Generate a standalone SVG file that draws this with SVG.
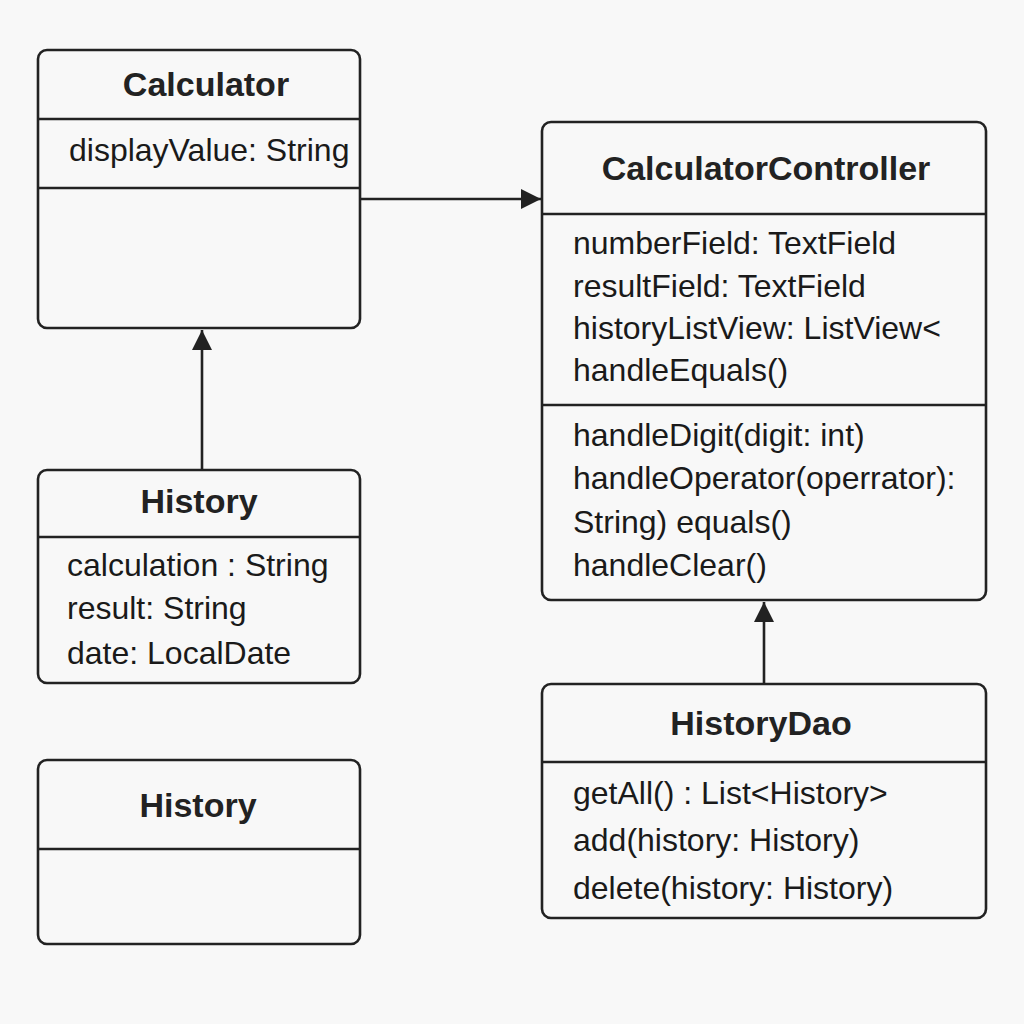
<svg xmlns="http://www.w3.org/2000/svg" width="1024" height="1024" viewBox="0 0 1024 1024">
  <defs>
    <style>
      .box { fill: #f8f8f8; stroke: #222; stroke-width: 2.6; }
      .div { stroke: #222; stroke-width: 2.6; }
      .title { font-family: "Liberation Sans", Arial, sans-serif; font-weight: bold; font-size: 34px; fill: #222; text-anchor: middle; }
      .txt { font-family: "Liberation Sans", Arial, sans-serif; font-size: 32px; fill: #1a1a1a; }
      .conn { stroke: #222; stroke-width: 2.6; fill: none; }
    </style>
    <marker id="arrow" viewBox="0 0 20 20" refX="20" refY="10" markerWidth="20" markerHeight="20" markerUnits="userSpaceOnUse" orient="auto">
      <path d="M0,0 L20,10 L0,20 Z" fill="#222"/>
    </marker>
  </defs>
  <rect width="1024" height="1024" fill="#f8f8f8"/>

  <g id="connectors">
    <line class="conn" x1="361" y1="199" x2="541" y2="199" marker-end="url(#arrow)"/>
    <line class="conn" x1="202" y1="469" x2="202" y2="330" marker-end="url(#arrow)"/>
    <line class="conn" x1="764" y1="684" x2="764" y2="602" marker-end="url(#arrow)"/>
  </g>

  <g id="Calculator">
    <rect class="box" x="38" y="50" width="322" height="278" rx="9"/>
    <line class="div" x1="38" y1="119" x2="360" y2="119"/>
    <line class="div" x1="38" y1="188" x2="360" y2="188"/>
    <text class="title" x="206" y="96">Calculator</text>
    <text class="txt" x="69" y="161">displayValue: String</text>
  </g>

  <g id="CalculatorController">
    <rect class="box" x="542" y="122" width="444" height="478" rx="9"/>
    <line class="div" x1="542" y1="214" x2="986" y2="214"/>
    <line class="div" x1="542" y1="405" x2="986" y2="405"/>
    <text class="title" x="766" y="180">CalculatorController</text>
    <text class="txt" x="573" y="254">numberField: TextField</text>
    <text class="txt" x="573" y="297">resultField: TextField</text>
    <text class="txt" x="573" y="339">historyListView: ListView&lt;</text>
    <text class="txt" x="573" y="381">handleEquals()</text>
    <text class="txt" x="573" y="446">handleDigit(digit: int)</text>
    <text class="txt" x="573" y="489">handleOperator(operrator):</text>
    <text class="txt" x="573" y="533">String) equals()</text>
    <text class="txt" x="573" y="576">handleClear()</text>
  </g>

  <g id="History1">
    <rect class="box" x="38" y="470" width="322" height="213" rx="9"/>
    <line class="div" x1="38" y1="537" x2="360" y2="537"/>
    <text class="title" x="199" y="513">History</text>
    <text class="txt" x="67" y="576">calculation : String</text>
    <text class="txt" x="67" y="619">result: String</text>
    <text class="txt" x="67" y="664">date: LocalDate</text>
  </g>

  <g id="History2">
    <rect class="box" x="38" y="760" width="322" height="184" rx="9"/>
    <line class="div" x1="38" y1="849" x2="360" y2="849"/>
    <text class="title" x="198" y="817">History</text>
  </g>

  <g id="HistoryDao">
    <rect class="box" x="542" y="684" width="444" height="234" rx="9"/>
    <line class="div" x1="542" y1="762" x2="986" y2="762"/>
    <text class="title" x="761" y="735">HistoryDao</text>
    <text class="txt" x="573" y="804">getAll() : List&lt;History&gt;</text>
    <text class="txt" x="573" y="851">add(history: History)</text>
    <text class="txt" x="573" y="899">delete(history: History)</text>
  </g>
</svg>
